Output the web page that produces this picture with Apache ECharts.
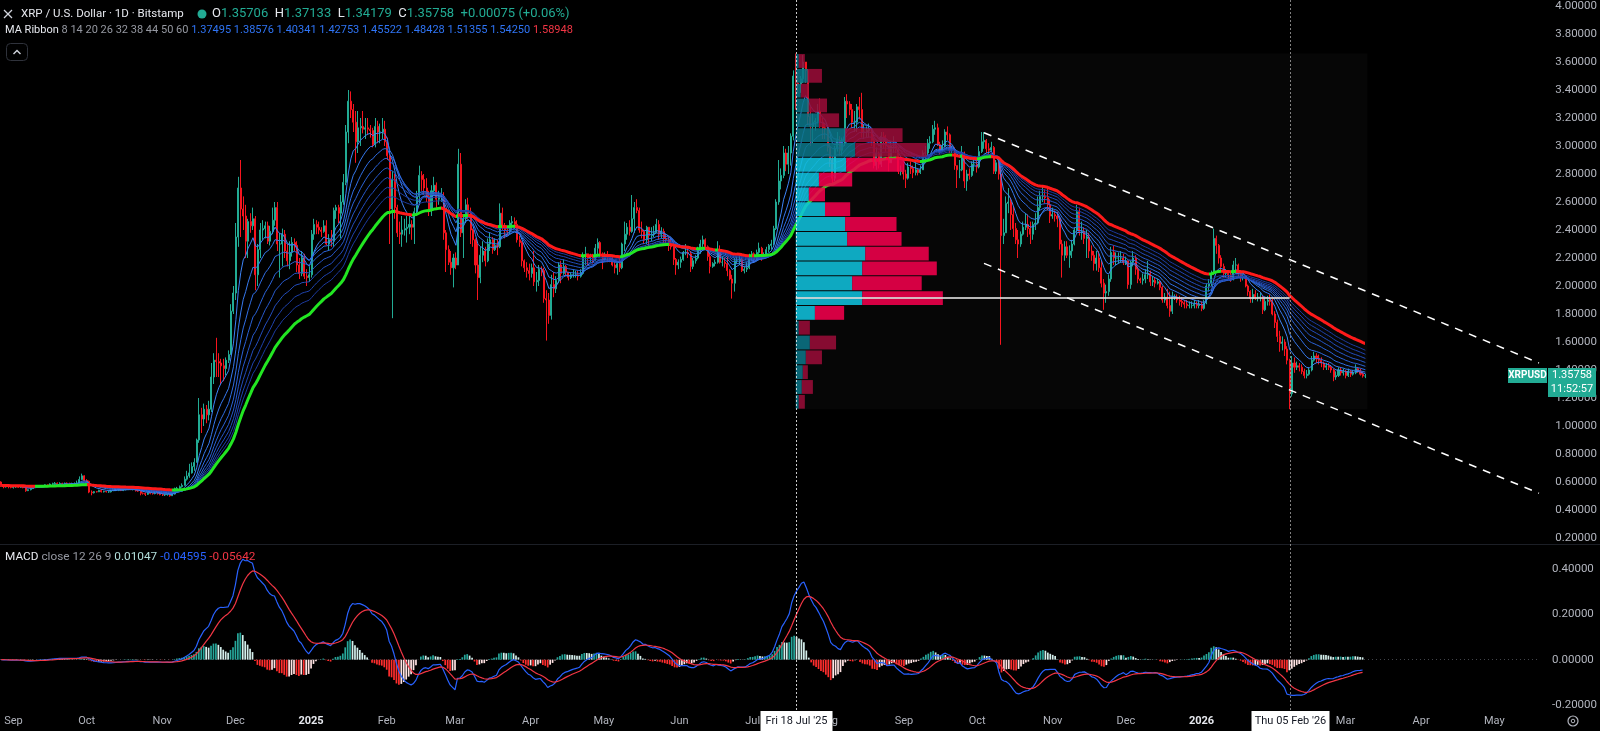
<!DOCTYPE html>
<html>
<head>
<meta charset="utf-8">
<script src="https://cdn.jsdelivr.net/npm/echarts@6.0.0/dist/echarts.min.js"></script>
<style>
html,body{margin:0;padding:0;background:#000;overflow:hidden}
#chart{width:1600px;height:731px}
</style>
</head>
<body>
<div id="chart"></div>
<script>
// ================= DATA =================
const startDate = '2024-08-27';
const axisEndDate = '2026-05-18';
const firstOpen = 0.600;

const closes = [
// 2024 Aug 27-31
0.575,0.565,0.570,0.567,0.562,
// Sep
0.564,0.573,0.563,0.566,0.560,0.538,0.545,0.553,0.563,0.567,0.570,0.571,0.571,0.580,0.573,0.585,0.588,0.591,0.588,0.590,0.589,0.591,0.590,0.587,0.589,0.590,0.593,0.618,0.644,0.611,
// Oct
0.605,0.528,0.523,0.531,0.530,0.540,0.530,0.532,0.530,0.530,0.538,0.540,0.541,0.552,0.540,0.547,0.548,0.550,0.547,0.547,0.538,0.535,0.520,0.519,0.512,0.521,0.519,0.517,0.520,0.519,0.510,
// Nov
0.507,0.510,0.510,0.502,0.514,0.553,0.555,0.566,0.576,0.620,0.643,0.665,0.710,0.740,0.900,1.080,1.050,1.120,1.080,1.120,1.350,1.470,1.460,1.450,1.430,1.410,1.470,1.510,1.820,1.950,
// Dec
2.350,2.700,2.550,2.500,2.320,2.460,2.430,2.480,2.080,2.260,2.400,2.410,2.430,2.320,2.390,2.470,2.560,2.300,2.300,2.370,2.250,2.180,2.240,2.310,2.290,2.150,2.090,2.200,2.070,2.060,2.080,
// 2025 Jan
2.370,2.440,2.420,2.400,2.390,2.430,2.300,2.330,2.320,2.540,2.560,2.520,2.600,2.740,3.100,3.320,3.260,3.170,3.030,3.130,3.140,3.120,3.130,3.120,3.110,3.010,3.140,3.100,3.100,3.120,3.030,
// Feb
2.930,2.550,2.760,2.560,2.380,2.370,2.400,2.410,2.420,2.440,2.420,2.530,2.640,2.790,2.760,2.700,2.640,2.550,2.680,2.720,2.620,2.640,2.640,2.380,2.260,2.170,2.130,2.200,
// Mar
2.150,2.870,2.380,2.480,2.580,2.520,2.400,2.330,2.150,2.060,2.220,2.250,2.180,2.300,2.330,2.260,2.290,2.280,2.520,2.430,2.400,2.390,2.450,2.460,2.440,2.330,2.310,2.180,2.130,2.110,2.090,
// Apr
2.130,2.030,2.040,2.120,2.110,1.910,1.900,1.790,2.010,1.980,2.040,2.150,2.090,2.140,2.100,2.060,2.080,2.080,2.080,2.070,2.090,2.220,2.230,2.200,2.210,2.190,2.270,2.310,2.230,2.190,
// May
2.210,2.200,2.190,2.150,2.130,2.160,2.130,2.300,2.370,2.420,2.390,2.480,2.560,2.540,2.400,2.390,2.330,2.420,2.360,2.370,2.380,2.440,2.370,2.390,2.340,2.330,2.300,2.280,2.190,2.150,2.170,
// Jun
2.190,2.240,2.240,2.230,2.140,2.180,2.200,2.270,2.300,2.330,2.280,2.210,2.140,2.160,2.170,2.260,2.170,2.170,2.160,2.110,2.050,2.020,2.180,2.180,2.190,2.110,2.120,2.130,2.200,2.230,
// Jul
2.190,2.240,2.270,2.220,2.220,2.260,2.290,2.300,2.410,2.600,2.750,2.790,2.950,2.870,2.950,3.070,3.500,3.450,3.440,3.480,3.600,3.540,3.210,3.140,3.170,3.180,3.250,3.170,3.130,3.120,2.990,
// Aug
2.900,2.770,2.980,3.040,2.970,3.020,3.320,3.300,3.260,3.170,3.170,3.280,3.260,3.100,3.100,3.110,3.120,3.040,2.860,2.950,2.870,3.070,3.030,3.000,2.880,3.000,3.000,2.980,2.820,2.820,2.800,
// Sep
2.770,2.850,2.840,2.810,2.830,2.810,2.830,2.950,2.950,3.020,3.030,3.120,3.130,3.010,2.970,3.000,3.100,3.080,2.970,2.970,2.860,2.830,2.830,2.950,2.750,2.800,2.790,2.870,2.870,2.850,
// Oct
2.960,3.030,3.040,2.980,2.970,2.990,2.820,2.880,2.800,2.360,2.380,2.590,2.600,2.510,2.410,2.330,2.300,2.370,2.420,2.440,2.410,2.370,2.440,2.450,2.560,2.640,2.640,2.630,2.580,2.500,2.510,
// Nov
2.500,2.480,2.300,2.220,2.280,2.220,2.250,2.300,2.400,2.530,2.390,2.390,2.340,2.350,2.250,2.220,2.160,2.200,2.130,2.020,1.950,1.960,2.050,2.240,2.200,2.200,2.200,2.200,2.170,2.180,
// Dec
2.010,2.170,2.200,2.120,2.050,2.040,2.050,2.080,2.090,2.030,2.040,2.020,2.030,1.990,1.900,1.920,1.860,1.820,1.920,1.920,1.900,1.890,1.880,1.870,1.860,1.860,1.860,1.870,1.860,1.870,1.840,
// 2026 Jan
1.880,2.000,2.020,2.090,2.340,2.290,2.200,2.140,2.090,2.090,2.080,2.050,2.150,2.150,2.090,2.060,2.070,2.000,1.960,1.910,1.940,1.920,1.920,1.920,1.830,1.890,1.900,1.890,1.800,1.740,1.640,
// Feb
1.590,1.600,1.550,1.470,1.230,1.450,1.420,1.430,1.420,1.390,1.360,1.370,1.400,1.470,1.500,1.480,1.470,1.450,1.420,1.430,1.420,1.400,1.350,1.360,1.400,1.380,1.390,1.360,
// Mar 1-8
1.390,1.370,1.380,1.410,1.390,1.370,1.35683,1.35758
];

const highs = [
0.605,0.585,0.585,0.580,0.570,
0.570,0.578,0.575,0.570,0.568,0.565,0.548,0.560,0.568,0.572,0.575,0.578,0.578,0.583,0.582,0.590,0.595,0.600,0.597,0.598,0.595,0.596,0.597,0.595,0.595,0.597,0.610,0.640,0.660,0.648,
0.620,0.610,0.540,0.535,0.535,0.545,0.550,0.538,0.537,0.540,0.542,0.545,0.545,0.555,0.560,0.554,0.552,0.555,0.552,0.552,0.550,0.545,0.538,0.525,0.525,0.526,0.525,0.523,0.527,0.530,0.522,
0.520,0.515,0.517,0.515,0.520,0.560,0.565,0.575,0.590,0.640,0.680,0.730,0.740,0.770,0.910,1.200,1.130,1.160,1.150,1.180,1.450,1.520,1.630,1.520,1.480,1.480,1.490,1.540,1.870,2.000,
2.450,2.780,2.900,2.640,2.580,2.480,2.520,2.560,2.500,2.300,2.450,2.470,2.460,2.460,2.430,2.560,2.600,2.600,2.380,2.410,2.400,2.300,2.320,2.350,2.340,2.320,2.200,2.250,2.230,2.120,2.140,
2.400,2.480,2.470,2.460,2.420,2.470,2.470,2.370,2.400,2.560,2.580,2.580,2.650,2.800,3.150,3.400,3.390,3.300,3.250,3.250,3.200,3.250,3.200,3.200,3.150,3.130,3.200,3.180,3.160,3.200,3.180,
3.060,2.950,2.820,2.800,2.580,2.460,2.500,2.480,2.500,2.500,2.470,2.560,2.680,2.860,2.820,2.800,2.770,2.680,2.720,2.780,2.740,2.680,2.700,2.670,2.400,2.290,2.250,2.230,
2.240,2.980,2.950,2.510,2.620,2.630,2.560,2.410,2.340,2.300,2.280,2.320,2.280,2.340,2.380,2.350,2.340,2.330,2.590,2.560,2.450,2.420,2.470,2.500,2.490,2.470,2.360,2.320,2.190,2.170,2.160,
2.160,2.250,2.100,2.150,2.140,2.130,1.970,1.950,2.080,2.100,2.070,2.170,2.180,2.190,2.150,2.100,2.100,2.120,2.110,2.110,2.120,2.240,2.280,2.230,2.230,2.230,2.300,2.340,2.320,2.240,
2.240,2.250,2.220,2.210,2.180,2.170,2.200,2.310,2.460,2.450,2.470,2.650,2.600,2.620,2.560,2.460,2.400,2.430,2.410,2.420,2.430,2.480,2.470,2.420,2.410,2.370,2.350,2.340,2.320,2.200,2.190,
2.210,2.250,2.300,2.280,2.250,2.200,2.220,2.280,2.330,2.360,2.340,2.290,2.230,2.170,2.190,2.320,2.290,2.210,2.200,2.210,2.120,2.080,2.200,2.210,2.220,2.200,2.140,2.170,2.230,2.250,
2.240,2.260,2.310,2.280,2.240,2.280,2.300,2.330,2.430,2.620,2.900,2.840,3.000,2.980,3.000,3.090,3.540,3.660,3.520,3.500,3.650,3.600,3.550,3.280,3.230,3.200,3.300,3.340,3.200,3.160,3.140,
3.020,2.930,3.000,3.100,3.070,3.060,3.350,3.370,3.320,3.300,3.250,3.300,3.350,3.380,3.150,3.140,3.160,3.120,3.060,2.990,2.960,3.100,3.100,3.080,3.010,3.030,3.070,3.020,2.990,2.860,2.870,
2.830,2.880,2.890,2.860,2.890,2.840,2.860,2.970,3.000,3.050,3.070,3.150,3.180,3.160,3.030,3.040,3.120,3.140,3.090,3.000,2.990,2.860,2.900,3.000,2.960,2.830,2.840,2.890,2.920,2.900,
3.000,3.100,3.100,3.050,3.020,3.030,3.000,2.900,2.900,2.850,2.480,2.640,2.700,2.630,2.570,2.450,2.400,2.390,2.460,2.520,2.510,2.460,2.460,2.520,2.640,2.680,2.720,2.690,2.700,2.620,2.560,
2.540,2.530,2.500,2.330,2.320,2.320,2.290,2.330,2.420,2.580,2.560,2.460,2.420,2.400,2.380,2.290,2.250,2.250,2.250,2.180,2.050,2.010,2.080,2.280,2.290,2.240,2.240,2.250,2.230,2.210,
2.180,2.180,2.250,2.220,2.140,2.060,2.090,2.120,2.180,2.110,2.070,2.060,2.050,2.040,2.000,1.950,1.980,1.960,1.960,1.940,1.940,1.930,1.920,1.900,1.900,1.890,1.890,1.900,1.890,1.900,1.890,
1.900,2.020,2.050,2.110,2.410,2.360,2.300,2.220,2.160,2.120,2.110,2.100,2.180,2.200,2.160,2.100,2.090,2.080,2.010,1.970,1.980,1.970,1.950,1.950,1.930,1.920,1.930,1.940,1.910,1.820,1.760,
1.680,1.640,1.620,1.570,1.480,1.500,1.490,1.460,1.450,1.440,1.410,1.400,1.420,1.500,1.530,1.520,1.510,1.490,1.460,1.450,1.450,1.430,1.410,1.390,1.420,1.420,1.410,1.400,
1.410,1.400,1.400,1.440,1.420,1.410,1.385,1.37133
];

const lows = [
0.565,0.555,0.560,0.555,0.555,
0.553,0.558,0.558,0.558,0.555,0.530,0.535,0.540,0.552,0.560,0.560,0.565,0.565,0.565,0.568,0.570,0.578,0.580,0.583,0.582,0.583,0.584,0.582,0.580,0.582,0.583,0.585,0.590,0.615,0.605,
0.598,0.520,0.505,0.518,0.525,0.528,0.525,0.525,0.525,0.522,0.525,0.535,0.535,0.535,0.535,0.535,0.540,0.542,0.542,0.540,0.532,0.530,0.505,0.510,0.500,0.508,0.512,0.510,0.512,0.510,0.505,
0.500,0.500,0.502,0.495,0.500,0.510,0.535,0.550,0.560,0.575,0.610,0.630,0.660,0.680,0.740,0.880,0.950,1.000,1.020,1.040,1.100,1.300,1.350,1.350,1.300,1.320,1.360,1.450,1.510,1.800,
1.900,2.280,2.350,2.400,2.200,2.200,2.380,2.400,1.970,2.000,2.200,2.330,2.340,2.300,2.290,2.370,2.430,2.250,2.060,2.140,2.200,2.140,2.120,2.210,2.250,2.100,2.050,2.070,2.050,2.000,2.030,
2.060,2.330,2.370,2.370,2.350,2.380,2.290,2.250,2.280,2.280,2.480,2.450,2.340,2.580,2.720,3.020,3.200,3.100,2.880,2.950,3.000,3.090,3.050,3.080,3.060,2.990,2.990,3.020,3.020,3.050,3.000,
2.900,2.300,1.770,2.480,2.350,2.300,2.280,2.360,2.310,2.370,2.330,2.300,2.500,2.580,2.680,2.650,2.600,2.500,2.500,2.650,2.550,2.580,2.600,2.330,2.100,2.150,2.080,1.990,
2.120,2.150,2.350,2.200,2.450,2.480,2.300,2.280,2.090,1.900,2.020,2.170,2.140,2.170,2.250,2.230,2.250,2.220,2.270,2.400,2.340,2.360,2.370,2.400,2.410,2.310,2.280,2.140,2.100,2.060,2.040,
2.060,2.000,1.960,2.000,2.070,1.880,1.610,1.730,1.760,1.920,1.950,2.020,2.020,2.080,2.070,2.040,2.050,2.060,2.060,2.040,2.060,2.080,2.150,2.150,2.170,2.160,2.180,2.220,2.210,2.120,
2.180,2.170,2.170,2.140,2.090,2.080,2.100,2.120,2.250,2.330,2.360,2.380,2.380,2.520,2.380,2.340,2.300,2.300,2.280,2.320,2.350,2.380,2.330,2.340,2.300,2.290,2.250,2.260,2.150,2.080,2.120,
2.130,2.180,2.220,2.200,2.100,2.120,2.160,2.190,2.230,2.280,2.260,2.180,2.090,2.130,2.140,2.160,2.160,2.140,2.130,2.070,2.040,1.910,1.960,2.160,2.150,2.100,2.090,2.100,2.120,2.180,
2.170,2.180,2.230,2.180,2.200,2.200,2.240,2.260,2.290,2.400,2.580,2.690,2.770,2.820,2.800,2.860,3.040,3.260,3.380,3.380,3.450,3.450,3.150,3.000,3.020,3.110,3.160,3.130,3.050,3.050,2.960,
2.850,2.720,2.750,2.960,2.930,2.930,3.000,3.200,3.220,3.130,3.100,3.100,3.190,3.060,3.050,3.060,3.060,3.000,2.840,2.830,2.840,2.850,2.980,2.960,2.820,2.880,2.950,2.950,2.800,2.790,2.760,
2.700,2.760,2.800,2.770,2.790,2.790,2.800,2.830,2.890,2.930,2.980,3.020,3.080,3.000,2.940,2.960,2.990,3.040,2.950,2.950,2.830,2.700,2.770,2.820,2.700,2.680,2.760,2.780,2.820,2.810,
2.840,2.950,2.980,2.950,2.940,2.960,2.800,2.800,2.760,1.580,2.300,2.380,2.520,2.400,2.350,2.300,2.200,2.280,2.360,2.400,2.350,2.300,2.330,2.400,2.440,2.540,2.600,2.590,2.540,2.450,2.480,
2.460,2.420,2.260,2.060,2.180,2.200,2.130,2.200,2.290,2.380,2.360,2.330,2.300,2.200,2.200,2.180,2.110,2.110,2.100,1.990,1.830,1.880,1.930,2.030,2.150,2.150,2.160,2.170,2.150,2.150,
1.980,1.980,2.140,2.080,2.020,2.020,2.010,2.020,2.050,2.000,2.000,1.990,2.010,1.970,1.880,1.880,1.840,1.780,1.800,1.900,1.880,1.860,1.850,1.840,1.840,1.840,1.840,1.840,1.840,1.840,1.820,
1.830,1.870,1.960,2.000,2.080,2.230,2.160,2.100,2.060,2.060,2.050,2.030,2.040,2.100,2.060,2.030,2.040,1.990,1.930,1.880,1.880,1.900,1.890,1.890,1.800,1.820,1.860,1.860,1.790,1.700,1.600,
1.530,1.540,1.500,1.440,1.120,1.210,1.380,1.400,1.390,1.370,1.340,1.340,1.360,1.390,1.460,1.450,1.440,1.420,1.400,1.400,1.400,1.380,1.320,1.330,1.350,1.360,1.360,1.340,
1.350,1.350,1.360,1.370,1.380,1.360,1.345,1.34179
];

const lastOpen = 1.35706;
const maLengths = [8, 14, 20, 26, 32, 38, 44, 50, 60];
const monthNames = ['Jan','Feb','Mar','Apr','May','Jun','Jul','Aug','Sep','Oct','Nov','Dec'];

// Visible-range volume profile (Jul 18 2025 -> last bar), rows from top to bottom
const profileDates = ['2025-07-18', '2026-03-08'];
const profilePrices = [1.12, 3.66];
const profileUpVol   = [3,12,5,13,23,49,59,50,23,13,29,49,51,69,66,56,66,19,3,14,10,7,6,3];
const profileDownVol = [6,14,8,18,20,57,71,58,33,16,25,51,54,63,74,69,80,29,11,26,16,5,11,6];
const valueAreaRows = [8, 18];
const pocRow = 17;
const pocEndDate = '2026-02-05';

// Parallel channel drawing (anchor -> right edge)
const channelDates = ['2025-10-03', '2026-05-18'];
const channelUpper = [3.095, 1.450];
const channelLower = [2.162, 0.520];

const markerDates = ['2025-07-18', '2026-02-05'];
const markerLabels = ["Fri 18 Jul '25", "Thu 05 Feb '26"];

const legendTitle = 'XRP / U.S. Dollar · 1D · Bitstamp';
const legendOHLC = ['1.35706', '1.37133', '1.34179', '1.35758', '+0.00075 (+0.06%)'];
const legendRibbon = ['1.37495','1.38576','1.40341','1.42753','1.45522','1.48428','1.51355','1.54250','1.58948'];
const legendMACD = ['0.01047', '-0.04595', '-0.05642'];
const priceTag = ['XRPUSD', '1.35758', '11:52:57'];

// ================= BUILD =================
function addDays(s, n) { const d = new Date(s + 'T00:00:00Z'); d.setUTCDate(d.getUTCDate() + n); return d.toISOString().slice(0, 10); }
const categories = [];
for (let d = startDate; d <= axisEndDate; d = addDays(d, 1)) categories.push(d);

const n = closes.length;
const opens = closes.map((c, i) => i === 0 ? firstOpen : closes[i - 1]);
opens[n - 1] = lastOpen;
const candles = closes.map((c, i) => {
  const o = opens[i];
  return [o, c, Math.min(lows[i], o, c), Math.max(highs[i], o, c)];
});

function ema(arr, len) {
  const a = 2 / (len + 1); const out = []; let p = arr[0];
  for (let i = 0; i < arr.length; i++) { p = i === 0 ? arr[0] : a * arr[i] + (1 - a) * p; out.push(+p.toFixed(6)); }
  return out;
}
const emas = maLengths.map(l => ema(closes, l));
const ema60 = emas[emas.length - 1];

const e12 = ema(closes, 12), e26 = ema(closes, 26);
const macd = e12.map((v, i) => +(v - e26[i]).toFixed(6));
const signal = ema(macd, 9);
const hist = macd.map((v, i) => +(v - signal[i]).toFixed(6));

const GREEN = '#22ab94', RED = '#f7141e';
const ribbonColors = ['#3d84f7','#3679ee','#306ee4','#2b63d8','#2758cb','#234dbd','#1f43ae','#1c3a9f'];

const histData = hist.map((h, i) => {
  const p = i > 0 ? hist[i - 1] : 0;
  let col;
  if (h >= 0) col = h > p ? '#26a69a' : '#d4efec';
  else col = h < p ? '#ff2d2d' : '#ffe2e2';
  return { value: h, itemStyle: { color: col } };
});

// color runs for MA60
const flags = closes.map((c, i) => c >= ema60[i]);
const pieces60 = [];
let s0 = 0;
for (let i = 1; i <= flags.length; i++) {
  if (i === flags.length || flags[i] !== flags[s0]) {
    pieces60.push({ gt: s0 - 1, lte: i - 1, color: flags[s0] ? '#22e622' : '#ff1a1a' });
    s0 = i;
  }
}

const profStartIdx = categories.indexOf(profileDates[0]);
const profEndIdx = categories.indexOf(profileDates[1]);
const nRows = profileUpVol.length;
const rowH = (profilePrices[1] - profilePrices[0]) / nRows;
const maxTotal = Math.max(...profileUpVol.map((u, i) => u + profileDownVol[i]));
const profileWidthFrac = 0.0955;
const pocPrice = profilePrices[1] - (pocRow - 0.5) * rowH;

function renderProfile(params, api) {
  const i = params.dataIndex;
  const top = profilePrices[1] - i * rowH, bot = top - rowH;
  const a = api.coord([profStartIdx, top]);
  const b = api.coord([profStartIdx, bot]);
  const scale = params.coordSys.width * profileWidthFrac / maxTotal;
  const row = i + 1;
  const inVA = row >= valueAreaRows[0] && row <= valueAreaRows[1];
  const y = a[1] + 0.5, h = b[1] - a[1] - 1;
  const wu = profileUpVol[i] * scale, wd = profileDownVol[i] * scale;
  return { type: 'group', children: [
    { type: 'rect', shape: { x: a[0], y: y, width: wu, height: h }, style: { fill: inVA ? '#10c0dc' : '#0b7486', opacity: 0.88 } },
    { type: 'rect', shape: { x: a[0] + wu, y: y, width: wd, height: h }, style: { fill: inVA ? '#f2004c' : '#980c38', opacity: 0.88 } }
  ]};
}
function renderProfileBg(params, api) {
  const a = api.coord([profStartIdx, profilePrices[1]]);
  const b = api.coord([profEndIdx, profilePrices[0]]);
  return { type: 'rect', shape: { x: a[0], y: a[1], width: b[0] - a[0] + 2, height: b[1] - a[1] }, style: { fill: 'rgba(255,255,255,0.022)' } };
}

const FONT = 'Roboto, "Noto Sans", sans-serif';
const series = [];
series.push({ type: 'custom', name: 'profileBg', xAxisIndex: 0, yAxisIndex: 0, renderItem: renderProfileBg, data: [[profStartIdx, profilePrices[1]]], z: 1, silent: true });
series.push({
  type: 'candlestick', xAxisIndex: 0, yAxisIndex: 0, data: candles, barWidth: '62%', z: 2,
  itemStyle: { color: GREEN, color0: RED, borderColor: GREEN, borderColor0: RED, borderWidth: 1 }
});
for (let k = 0; k < maLengths.length - 1; k++) {
  series.push({ type: 'line', xAxisIndex: 0, yAxisIndex: 0, data: emas[k], showSymbol: false, symbol: 'none', z: 3,
    lineStyle: { width: 1, color: ribbonColors[k] }, silent: true });
}
const idx60 = series.length;
series.push({ type: 'line', xAxisIndex: 0, yAxisIndex: 0, data: ema60, showSymbol: false, symbol: 'none', z: 4,
  lineStyle: { width: 3 }, silent: true });
series.push({ type: 'custom', name: 'profile', xAxisIndex: 0, yAxisIndex: 0, renderItem: renderProfile, z: 5, silent: true,
  data: profileUpVol.map((u, i) => [profStartIdx, profilePrices[1] - (i + 0.5) * rowH]) });
series.push({ type: 'line', xAxisIndex: 0, yAxisIndex: 0, data: [[profileDates[0], pocPrice], [pocEndDate, pocPrice]],
  showSymbol: false, symbol: 'none', z: 6, silent: true, lineStyle: { width: 2, color: 'rgba(215,215,215,0.85)' } });
series.push({ type: 'line', xAxisIndex: 0, yAxisIndex: 0, data: [[channelDates[0], channelUpper[0]], [channelDates[1], channelUpper[1]]],
  showSymbol: false, symbol: 'none', z: 6, silent: true, lineStyle: { width: 1.5, color: '#ffffff', type: [8, 7] } });
series.push({ type: 'line', xAxisIndex: 0, yAxisIndex: 0, data: [[channelDates[0], channelLower[0]], [channelDates[1], channelLower[1]]],
  showSymbol: false, symbol: 'none', z: 6, silent: true, lineStyle: { width: 1.5, color: '#ffffff', type: [8, 7] } });
// MACD pane
series.push({ type: 'bar', xAxisIndex: 1, yAxisIndex: 1, data: histData, barWidth: '70%', z: 2, silent: true });
series.push({ type: 'line', xAxisIndex: 1, yAxisIndex: 1, data: macd, showSymbol: false, symbol: 'none', clip: false, z: 3, silent: true,
  lineStyle: { width: 1.2, color: '#2962ff' },
  markLine: { silent: true, symbol: 'none', label: { show: false }, data: [{ yAxis: 0 }],
    lineStyle: { color: 'rgba(120,123,134,0.55)', type: [1, 3], width: 1 } } });
series.push({ type: 'line', xAxisIndex: 1, yAxisIndex: 1, data: signal, showSymbol: false, symbol: 'none', clip: false, z: 3, silent: true,
  lineStyle: { width: 1.2, color: '#f23645' } });

const chart = echarts.init(document.getElementById('chart'));
chart.setOption({
  backgroundColor: '#000000',
  animation: false,
  textStyle: { fontFamily: FONT },
  grid: [
    { left: 0, right: 59, top: 6, height: 532 },
    { left: 0, right: 59, top: 569, height: 136 }
  ],
  xAxis: [
    { type: 'category', gridIndex: 0, data: categories, boundaryGap: true, show: false },
    { type: 'category', gridIndex: 1, data: categories, boundaryGap: true,
      axisLine: { show: false }, axisTick: { show: false }, splitLine: { show: false },
      axisLabel: {
        interval: (i, v) => v.slice(8) === '01',
        formatter: v => { const m = +v.slice(5, 7); return m === 1 ? '{y|' + v.slice(0, 4) + '}' : monthNames[m - 1]; },
        color: '#b2b5be', fontSize: 11, margin: 11, fontFamily: FONT,
        rich: { y: { fontWeight: 'bold', color: '#e6e8ee', fontSize: 11, fontFamily: FONT } }
      } }
  ],
  yAxis: [
    { type: 'value', gridIndex: 0, position: 'right', min: 0.2, max: 4.0, interval: 0.2,
      axisLine: { show: false }, axisTick: { show: false }, splitLine: { show: false },
      axisLabel: { formatter: v => v.toFixed(5), color: '#b2b5be', fontSize: 11.5, margin: 15, fontFamily: FONT } },
    { type: 'value', gridIndex: 1, position: 'right', min: -0.2, max: 0.4, interval: 0.2,
      axisLine: { show: false }, axisTick: { show: false }, splitLine: { show: false },
      axisLabel: { formatter: v => v.toFixed(5), color: '#b2b5be', fontSize: 11.5, margin: 15, fontFamily: FONT } }
  ],
  visualMap: [{ type: 'piecewise', show: false, seriesIndex: idx60, dimension: 0, pieces: pieces60 }],
  series: series
});

// ---------- overlays positioned through the chart's own scales ----------
function richText(x, y, parts, size) {
  const rich = {}; let text = '';
  parts.forEach((p, i) => {
    const key = 's' + i;
    rich[key] = { fill: p[1], fontSize: size, fontFamily: FONT, fontWeight: p[2] || 'normal' };
    text += '{' + key + '|' + p[0] + '}';
  });
  return { type: 'text', x: x, y: y, z: 200, silent: true,
    style: { text: text, rich: rich, verticalAlign: 'middle', align: 'left', fontSize: size, fontFamily: FONT } };
}

const g = [];
// pane separator
g.push({ type: 'line', z: 150, silent: true, shape: { x1: 0, y1: 544.5, x2: 1600, y2: 544.5 }, style: { stroke: '#1c1f26', lineWidth: 1 } });
// vertical marker lines + date boxes
markerDates.forEach((d, k) => {
  const x = Math.round(chart.convertToPixel({ xAxisIndex: 0 }, d)) + 0.5;
  g.push({ type: 'line', z: 150, silent: true, shape: { x1: x, y1: 0, x2: x, y2: 711 },
    style: { stroke: k === 0 ? 'rgba(235,235,235,0.85)' : 'rgba(170,170,170,0.75)', lineWidth: 1, lineDash: [2, 2] } });
  const w = k === 0 ? 72 : 78;
  g.push({ type: 'rect', z: 210, silent: true, shape: { x: x - w / 2, y: 711, width: w, height: 20 }, style: { fill: '#ffffff' } });
  g.push({ type: 'text', z: 211, silent: true, x: x, y: 721,
    style: { text: markerLabels[k], fill: '#131722', fontSize: 11, fontFamily: FONT, align: 'center', verticalAlign: 'middle' } });
});
// header: close icon, title, dot, OHLC
g.push({ type: 'line', z: 200, silent: true, shape: { x1: 4, y1: 10, x2: 12, y2: 18 }, style: { stroke: '#d1d4dc', lineWidth: 1.2 } });
g.push({ type: 'line', z: 200, silent: true, shape: { x1: 12, y1: 10, x2: 4, y2: 18 }, style: { stroke: '#d1d4dc', lineWidth: 1.2 } });
g.push(richText(21, 14, [[legendTitle, '#e6e8ee']], 11.5));
g.push({ type: 'circle', z: 200, silent: true, shape: { cx: 202, cy: 14, r: 4.5 }, style: { fill: '#22ab94' } });
g.push(richText(212, 14, [
  ['O', '#e6e8ee'], [legendOHLC[0] + '  ', GREEN], ['H', '#e6e8ee'], [legendOHLC[1] + '  ', GREEN],
  ['L', '#e6e8ee'], [legendOHLC[2] + '  ', GREEN], ['C', '#e6e8ee'], [legendOHLC[3] + '  ', GREEN], [legendOHLC[4], GREEN]
], 13));
// ribbon legend
const ribParts = [['MA Ribbon ', '#e6e8ee'], [maLengths.join(' ') + ' ', '#9598a1']];
legendRibbon.forEach((v, i) => ribParts.push([v + ' ', i === legendRibbon.length - 1 ? '#f23645' : '#2f74f5']));
g.push(richText(5, 30, ribParts, 11));
// collapse button
g.push({ type: 'rect', z: 200, silent: true, shape: { x: 6.5, y: 43.5, width: 21, height: 17, r: 4 }, style: { fill: 'none', stroke: '#2f323b', lineWidth: 1 } });
g.push({ type: 'polyline', z: 200, silent: true, shape: { points: [[13.5, 54], [17, 50.5], [20.5, 54]] }, style: { fill: 'none', stroke: '#d1d4dc', lineWidth: 1.4 } });
// MACD legend
g.push(richText(5, 557, [['MACD ', '#e6e8ee'], ['close 12 26 9 ', '#9598a1'], [legendMACD[0] + ' ', '#b2dfdb'],
  [legendMACD[1] + ' ', '#2962ff'], [legendMACD[2], '#f23645']], 11.8));
// current price tag
const py = Math.round(chart.convertToPixel({ yAxisIndex: 0 }, closes[n - 1]));
g.push({ type: 'rect', z: 200, silent: true, shape: { x: 1508, y: py - 8, width: 39, height: 15 }, style: { fill: '#22ab94' } });
g.push({ type: 'text', z: 201, silent: true, x: 1527.5, y: py - 0.5, style: { text: priceTag[0], fill: '#ffffff', fontSize: 10, fontWeight: 'bold', fontFamily: FONT, align: 'center', verticalAlign: 'middle' } });
g.push({ type: 'rect', z: 200, silent: true, shape: { x: 1548, y: py - 8, width: 48, height: 29 }, style: { fill: '#22ab94' } });
g.push({ type: 'text', z: 201, silent: true, x: 1572, y: py - 0.5, style: { text: priceTag[1], fill: '#ffffff', fontSize: 11, fontFamily: FONT, align: 'center', verticalAlign: 'middle' } });
g.push({ type: 'text', z: 201, silent: true, x: 1572, y: py + 13, style: { text: priceTag[2], fill: '#ffffff', fontSize: 11, fontFamily: FONT, align: 'center', verticalAlign: 'middle' } });
// settings gear (bottom right)
g.push({ type: 'circle', z: 200, silent: true, shape: { cx: 1573, cy: 721, r: 5 }, style: { fill: 'none', stroke: '#b2b5be', lineWidth: 1.2 } });
g.push({ type: 'circle', z: 200, silent: true, shape: { cx: 1573, cy: 721, r: 1.8 }, style: { fill: 'none', stroke: '#b2b5be', lineWidth: 1 } });

chart.setOption({ graphic: g });
</script>
</body>
</html>
